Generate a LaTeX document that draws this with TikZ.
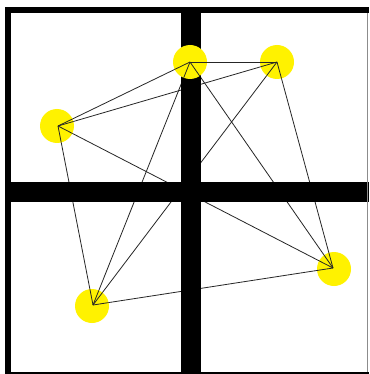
\documentclass[tikz,border=0pt]{standalone}
\begin{document}
\begin{tikzpicture}[x=1pt,y=-1pt,
  vtx/.style={circle,fill=yellow,draw=none,inner sep=0pt,minimum size=34pt},
  edge/.style={draw=black!85,line width=0.8pt},
  bar/.style={fill=black}]
\useasboundingbox (0,0) rectangle (369,374);
\fill[white] (0,0) rectangle (369,374);
\coordinate (A) at (190,62);
\coordinate (B) at (277,62);
\coordinate (C) at (58,126);
\coordinate (D) at (93,305);
\coordinate (E) at (333,268);
% connectors (behind the bars)
\foreach \u/\v in {A/B,A/C,A/D,A/E,B/C,B/D,B/E,C/D,C/E,D/E}
  \draw[edge] (\u) -- (\v);
% thick cross bars
\fill[bar] (181,7) rectangle (201,374);
\fill[bar] (5,182) rectangle (369,202);
% frame
\fill[bar] (5,7) rectangle (11,374);
\fill[bar] (5,7) rectangle (369,13);
\fill[bar] (5,372) rectangle (369,374);
\draw[black!45,line width=1pt] (367,13) -- (367,372);
% yellow vertices
\node[vtx] (a) at (190,62) {};
\node[vtx] (b) at (277,62) {};
\node[vtx] (c) at (57,126) {};
\node[vtx] (d) at (92,306) {};
\node[vtx] (e) at (334,269) {};
% connectors visible over the yellow discs
\begin{scope}
  \clip (a.center) circle[radius=17pt] (b.center) circle[radius=17pt]
        (c.center) circle[radius=17pt] (d.center) circle[radius=17pt]
        (e.center) circle[radius=17pt];
  \foreach \u/\v in {A/B,A/C,A/D,A/E,B/C,B/D,B/E,C/D,C/E,D/E}
    \draw[edge] (\u) -- (\v);
\end{scope}
\end{tikzpicture}
\end{document}
